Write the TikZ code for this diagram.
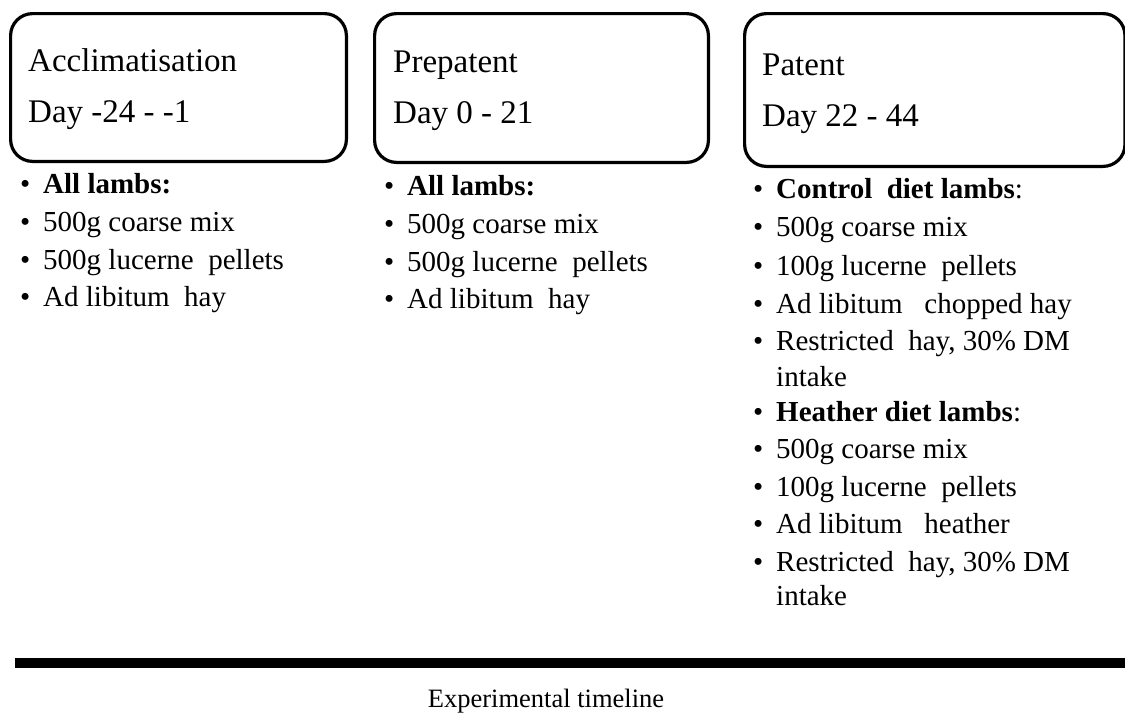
\documentclass[tikz,border=0pt]{standalone}
\usepackage{fontspec}
\setmainfont{Liberation Serif}
\usepackage{tikz}
\newcommand{\bul}{\llap{\textbullet\hspace{13pt}}}
\begin{document}
\begin{tikzpicture}[x=1pt,y=-1pt]
	\tikzstyle{phase}=[draw=black,line width=3.2pt,rounded corners=22pt,anchor=north west,inner sep=0pt]
	\tikzstyle{head}=[anchor=base west,inner sep=0pt,font=\fontsize{33}{40}\selectfont]
	\tikzstyle{item}=[anchor=base west,inner sep=0pt,font=\fontsize{29}{32}\selectfont]
	\useasboundingbox (0,0) rectangle (1125,713);
	% phase boxes
	\node[phase,minimum width=335.8pt,minimum height=147.8pt] (acc) at (9,12) {};
	\node[phase,minimum width=333.8pt,minimum height=148.8pt] (pre) at (373,12) {};
	\node[phase,minimum width=380.4pt,minimum height=152.8pt] (pat) at (743,12) {};
	\node[head] (acc1) at (28,71) {Acclimatisation};
	\node[head] (acc2) at (28,122) {Day -24 - -1};
	\node[head] (pre1) at (393,72) {Prepatent};
	\node[head] (pre2) at (393,123) {Day 0 - 21};
	\node[head] (pat1) at (762,75) {Patent};
	\node[head] (pat2) at (762,126) {Day 22 - 44};
	% diets
	\node[item] (a1) at (43,193) {\bul\textbf{All lambs:}};
	\node[item] (a2) at (43,231) {\bul 500g coarse mix};
	\node[item] (a3) at (43,269) {\bul 500g lucerne\ \ pellets};
	\node[item] (a4) at (43,306) {\bul Ad libitum\ \ hay};
	\node[item] (b1) at (407,195) {\bul\textbf{All lambs:}};
	\node[item] (b2) at (407,233) {\bul 500g coarse mix};
	\node[item] (b3) at (407,271) {\bul 500g lucerne\ \ pellets};
	\node[item] (b4) at (407,308) {\bul Ad libitum\ \ hay};
	\node[item] (c1) at (776,198) {\bul\textbf{Control\ \ diet lambs}:};
	\node[item] (c2) at (776,236) {\bul 500g coarse mix};
	\node[item] (c3) at (776,275) {\bul 100g lucerne\ \ pellets};
	\node[item] (c4) at (776,313) {\bul Ad libitum\ \ \ chopped hay};
	\node[item] (c5) at (776,350) {\bul Restricted\ \ hay, 30\% DM};
	\node[item] (c5b) at (776,386) {intake};
	\node[item] (c6) at (776,421) {\bul\textbf{Heather diet lambs}:};
	\node[item] (c7) at (776,458) {\bul 500g coarse mix};
	\node[item] (c8) at (776,496) {\bul 100g lucerne\ \ pellets};
	\node[item] (c9) at (776,533) {\bul Ad libitum\ \ \ heather};
	\node[item] (c10) at (776,571) {\bul Restricted\ \ hay, 30\% DM};
	\node[item] (c10b) at (776,605) {intake};
	% timeline
	\coordinate (t0) at (15,663);
	\coordinate (t1) at (1125,663);
	\draw[line width=10pt] (t0) -- (t1);
	\node[anchor=base,inner sep=0pt,font=\fontsize{26.5}{30}\selectfont] (tl) at (546,707) {Experimental timeline};
\end{tikzpicture}
\end{document}
